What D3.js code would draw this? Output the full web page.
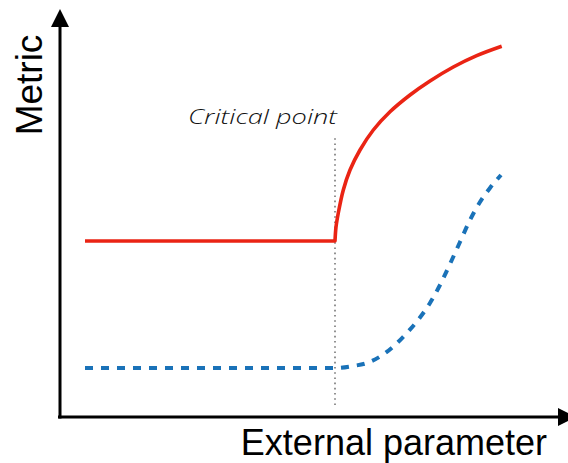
<!DOCTYPE html>
<html>
<head>
<meta charset="utf-8">
<script src="https://cdn.jsdelivr.net/npm/d3@7"></script>
<style>
  body { margin: 0; background: #fff; }
  svg { display: block; }
</style>
</head>
<body>
<script>
const width = 568;
const height = 463;

// order parameter above the transition (solid red)
const redX = [5, 55, 55.2, 55.66, 56.66, 58, 60, 62.66, 66, 70, 74, 78.66, 83.34, 88.34];
const redY = [44, 44, 47.5, 51, 56.75, 61.75, 66.75, 71.75, 76.3, 80.5, 84.0, 87.5, 90.35, 92.7];

// smooth crossover (dashed blue)
const blueX = [5, 55, 58.6, 61.4, 64.2, 67, 69, 71.6, 74, 76, 78, 80, 82, 84, 86, 88.2];
const blueY = [12.25, 12.25, 12.75, 13.5, 15.25, 18, 20.5, 24.25, 28.5, 33, 38.25, 43.75, 49.25, 53.75, 57.25, 60.5];

const criticalX = 55;
const criticalRange = [3, 70];

const xLabel = "External parameter";
const yLabel = "Metric";
const criticalLabel = "Critical point";

const svg = d3.select("body").append("svg")
  .attr("width", width)
  .attr("height", height);

const x = d3.scaleLinear().domain([0, 100]).range([60, 560]);
const y = d3.scaleLinear().domain([0, 100]).range([417, 17]);

// arrow heads
const defs = svg.append("defs");
defs.append("marker")
  .attr("id", "arrow")
  .attr("viewBox", "0 0 10 10")
  .attr("refX", 0)
  .attr("refY", 5)
  .attr("markerUnits", "userSpaceOnUse")
  .attr("markerWidth", 18)
  .attr("markerHeight", 20)
  .attr("orient", "auto")
  .append("path")
  .attr("d", "M0,0 L10,5 L0,10 Z")
  .attr("fill", "#000");

// axes
svg.append("line")
  .attr("x1", x(-0.4)).attr("y1", y(0))
  .attr("x2", x(99.6)).attr("y2", y(0))
  .attr("stroke", "#000")
  .attr("stroke-width", 3)
  .attr("marker-end", "url(#arrow)");

svg.append("line")
  .attr("x1", x(0)).attr("y1", y(-0.4))
  .attr("x2", x(0)).attr("y2", y(97.5))
  .attr("stroke", "#000")
  .attr("stroke-width", 3)
  .attr("marker-end", "url(#arrow)");

// critical point marker
svg.append("line")
  .attr("x1", x(criticalX)).attr("x2", x(criticalX))
  .attr("y1", y(criticalRange[0])).attr("y2", y(criticalRange[1]))
  .attr("stroke", "#777")
  .attr("stroke-width", 1.6)
  .attr("stroke-dasharray", "1.6,3.6");

const line = d3.line()
  .x((d) => x(d[0]))
  .y((d) => y(d[1]))
  .curve(d3.curveMonotoneX);

const smooth = d3.line()
  .x((d) => x(d[0]))
  .y((d) => y(d[1]))
  .curve(d3.curveCatmullRom.alpha(0.5));

svg.append("path")
  .datum(blueX.map((v, i) => [v, blueY[i]]))
  .attr("d", line)
  .attr("fill", "none")
  .attr("stroke", "#1a72b8")
  .attr("stroke-width", 4)
  .attr("stroke-dasharray", "8,8");

// red: flat part straight, rising part smooth, joined at the corner
const red = redX.map((v, i) => [v, redY[i]]);
const flatPath = d3.line().x((d) => x(d[0])).y((d) => y(d[1]))(red.slice(0, 2));
const risePath = smooth(red.slice(1));
svg.append("path")
  .attr("d", flatPath + "L" + risePath.slice(1))
  .attr("fill", "none")
  .attr("stroke", "#ea2414")
  .attr("stroke-width", 3.6)
  .attr("stroke-linejoin", "round");

// labels
svg.append("text")
  .attr("x", x(criticalX) + 2)
  .attr("y", 124)
  .attr("text-anchor", "end")
  .attr("font-family", "'Open Sans', Roboto, sans-serif")
  .attr("font-style", "italic")
  .attr("font-weight", 300)
  .attr("font-size", 20)
  .attr("textLength", 149)
  .attr("lengthAdjust", "spacingAndGlyphs")
  .attr("fill", "#111")
  .text(criticalLabel);

svg.append("text")
  .attr("x", 547)
  .attr("y", 455)
  .attr("text-anchor", "end")
  .attr("font-family", "'Liberation Sans', Arial, sans-serif")
  .attr("font-size", 36)
  .attr("fill", "#000")
  .text(xLabel);

svg.append("text")
  .attr("transform", "translate(42,85) rotate(-90)")
  .attr("text-anchor", "middle")
  .attr("font-family", "'Liberation Sans', Arial, sans-serif")
  .attr("font-size", 37)
  .attr("fill", "#000")
  .text(yLabel);
</script>
</body>
</html>
